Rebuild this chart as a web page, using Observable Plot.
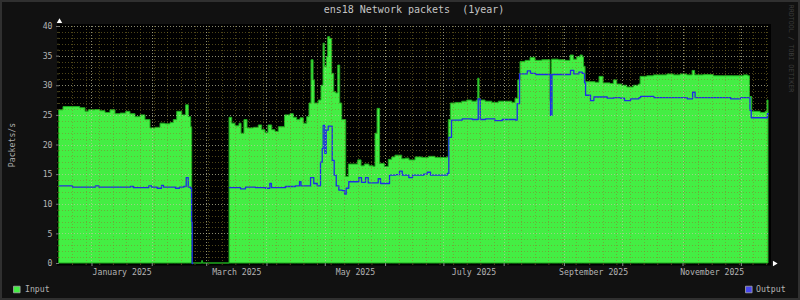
<!DOCTYPE html>
<html>
<head>
<meta charset="utf-8">
<script src="https://cdn.jsdelivr.net/npm/d3@7"></script>
<script src="https://cdn.jsdelivr.net/npm/@observablehq/plot@0.6"></script>
<style>
  html, body { margin: 0; padding: 0; background: #111; }
  #chart { width: 800px; height: 300px; }
</style>
</head>
<body>
<div id="chart"></div>
<script>
// ---- data ----
const titleText = "ens18 Network packets\u00a0 (1year)";
const yLabel = "Packets/s";
const watermark = "RRDTOOL / TOBI OETIKER";
const seriesNames = ["Input", "Output"];

const domainStart = "2024-12-15T07";
const domainEnd = "2025-12-14T23";

const yTicks = [0, 5, 10, 15, 20, 25, 30, 35, 40];
const xLabelMonths = ["2025-01-01", "2025-03-01", "2025-05-01", "2025-07-01", "2025-09-01", "2025-11-01"];
const xLabelTexts = ["January 2025", "March 2025", "May 2025", "July 2025", "September 2025", "November 2025"];

const inDates = [
  "2024-12-15T07","2024-12-17T08","2024-12-26","2024-12-28T16","2024-12-30T08",
  "2025-01-02T19","2025-01-05T09","2025-01-07T23","2025-01-10T12","2025-01-13T02",
  "2025-01-15T16","2025-01-18T14","2025-01-20T19","2025-01-23T09","2025-01-25T23",
  "2025-01-28T12","2025-01-31T02","2025-02-02T16","2025-02-05T06","2025-02-07T19",
  "2025-02-10T09","2025-02-12T02","2025-02-13T20","2025-02-16T10","2025-02-18T11",
  "2025-02-19T19","2025-02-21T01","2025-02-21T13","2025-02-26T16","2025-02-27T02",
  "2025-02-27T03",
  "2025-03-12T18","2025-03-14T03","2025-03-15T20","2025-03-17T21","2025-03-18T22",
  "2025-03-20T10","2025-03-22T00","2025-03-25T06","2025-03-27T19","2025-03-29T13",
  "2025-03-31T06","2025-04-01T19","2025-04-03T17","2025-04-05T09","2025-04-07T02",
  "2025-04-10T07","2025-04-13T02","2025-04-14T19","2025-04-16T13","2025-04-18T06",
  "2025-04-19T23","2025-04-21T17","2025-04-22T21","2025-04-23T22","2025-04-24T23",
  "2025-04-25T14","2025-04-27T16","2025-04-29T01","2025-04-30T02","2025-04-30T18",
  "2025-05-01T19","2025-05-02T12","2025-05-03T13","2025-05-04T13","2025-05-05T14",
  "2025-05-06T15","2025-05-07T16","2025-05-08T16","2025-05-09T17","2025-05-11T18",
  "2025-05-13T02","2025-05-17T22","2025-05-19T15","2025-05-21T08","2025-05-23T18",
  "2025-05-25T23","2025-05-26T20","2025-05-27T21","2025-05-29T04","2025-05-31T15",
  "2025-06-02T16","2025-06-04T10","2025-06-06T02","2025-06-09T14","2025-06-11T06",
  "2025-06-13T07","2025-06-16T10","2025-06-19T21","2025-06-23T06","2025-06-26T17",
  "2025-07-02T17","2025-07-03T13","2025-07-04T14","2025-07-07T00","2025-07-10T10",
  "2025-07-13T00","2025-07-15T14","2025-07-17T23","2025-07-18T16","2025-07-19T08",
  "2025-07-22T10","2025-07-25T21","2025-07-29T06","2025-08-01T17","2025-08-05T04",
  "2025-08-06T20","2025-08-08T06","2025-08-09T10","2025-08-12T00","2025-08-14T13",
  "2025-08-17T03","2025-08-20T14","2025-08-24T20","2025-08-25T14","2025-08-29T02",
  "2025-09-01T14","2025-09-04T03","2025-09-05T20","2025-09-07T14","2025-09-09T07",
  "2025-09-10T11","2025-09-11T02","2025-09-11T21","2025-09-17T00","2025-09-19T01",
  "2025-09-21T03","2025-09-24T17","2025-09-26T10","2025-09-28T04","2025-09-30T18",
  "2025-10-03T07","2025-10-06T17","2025-10-09T07","2025-10-10T04","2025-10-13T14",
  "2025-10-17T00","2025-10-23T22","2025-10-27T07","2025-10-30T18","2025-11-03T04",
  "2025-11-05T22","2025-11-07T05","2025-11-11T17","2025-11-16T21","2025-11-22T00",
  "2025-11-27T04","2025-12-02T07","2025-12-04T14","2025-12-05T10","2025-12-06T14",
  "2025-12-10T22","2025-12-13T12","2025-12-14T10","2025-12-14T23"
];
const inValues = [
  25.85,26.4,26.2,25.6,25.85,
  25.9,25.7,25.4,25.85,25.2,
  25.3,25.6,25.2,24.7,25.0,
  24.2,22.8,22.9,23.6,23.5,
  23.7,24.2,25.6,25.0,26.7,
  24.7,23.0,0,0.4,0.4,
  null,
  24.6,23.6,23.15,23.6,21.9,
  24.2,22.8,22.9,23.3,22.5,
  22.0,23.3,22.5,22.2,23.0,
  25.0,25.2,24.6,24.2,24.5,
  23.6,24.7,27.0,34.3,30.9,
  27.0,27.5,30.0,37.1,33.2,
  34.8,38.2,37.9,32.0,28.9,
  28.7,33.4,27.0,24.2,14.6,
  16.7,17.4,16.4,16.7,16.4,
  16.3,21.9,26.1,16.8,16.3,
  17.5,17.9,18.2,17.6,17.7,
  17.4,17.9,17.8,18.0,17.8,
  17.9,24.2,27.0,27.1,27.3,
  27.5,27.3,27.5,31.2,27.5,
  27.3,27.1,27.3,27.3,27.1,
  27.8,30.9,34.0,34.2,34.7,
  34.2,34.3,27.4,34.4,34.3,
  34.2,35.1,34.4,34.8,35.1,
  34.8,33.2,30.6,30.5,31.5,
  30.4,30.3,30.9,30.2,30.0,
  29.7,30.0,30.2,31.5,31.6,
  31.75,31.9,31.75,31.9,31.75,
  32.5,31.75,31.8,31.6,31.6,
  31.6,31.75,31.6,28.1,25.6,
  25.4,25.6,27.5,27.5
];

const outDates = [
  "2024-12-15T07","2024-12-22T00","2025-01-02T19","2025-01-04T12","2025-01-20T19",
  "2025-01-22T08","2025-01-30T05","2025-01-31T15","2025-02-03T12","2025-02-05T18",
  "2025-02-06T19","2025-02-12T23","2025-02-15T00","2025-02-17T05","2025-02-18T11",
  "2025-02-19T12","2025-02-20T16","2025-02-21T05","2025-02-21T13","2025-02-21T20",
  "2025-02-21T21",
  "2025-03-12T18","2025-03-18T10","2025-03-20T23","2025-03-26T02","2025-03-31T06",
  "2025-04-02T11","2025-04-03T07","2025-04-10T13","2025-04-15T16","2025-04-17T18",
  "2025-04-18T12","2025-04-23T10","2025-04-25T02","2025-04-26T20","2025-04-28T13",
  "2025-04-29T10","2025-04-29T22","2025-04-30T18","2025-05-01T11","2025-05-02T12",
  "2025-05-04T13","2025-05-05T14","2025-05-06T15","2025-05-07T23","2025-05-09T17",
  "2025-05-10T22","2025-05-11T18","2025-05-13T02","2025-05-18T06","2025-05-19T15",
  "2025-05-21T17","2025-05-23T02","2025-05-28T05","2025-05-29T10","2025-06-03T01",
  "2025-06-06T02","2025-06-08T04","2025-06-09T14","2025-06-12T23","2025-06-14T21",
  "2025-06-20T16","2025-06-22T10","2025-06-24T03","2025-07-02T17","2025-07-03T13",
  "2025-07-04T22","2025-07-10T10","2025-07-15T14","2025-07-18T16","2025-07-19T17",
  "2025-07-22T10","2025-07-27T05","2025-07-31T00","2025-08-06T20","2025-08-07T17",
  "2025-08-08T22","2025-08-12T22","2025-08-14T13","2025-08-17T03","2025-08-24T20",
  "2025-08-25T14","2025-09-04T03","2025-09-05T20","2025-09-08T10","2025-09-10T04",
  "2025-09-11T08","2025-09-11T21","2025-09-14T10","2025-09-16T03","2025-09-23T00",
  "2025-09-26T10","2025-09-29T21","2025-10-01T22","2025-10-05T00","2025-10-09T07",
  "2025-10-10T04","2025-10-17T00","2025-11-03T04","2025-11-05T22","2025-11-07T05",
  "2025-11-16T21","2025-11-25T12","2025-11-30T14","2025-12-05T10","2025-12-06T02",
  "2025-12-14T10","2025-12-14T23"
];
const outValues = [
  13.1,12.9,13.1,12.9,13.0,
  12.8,13.1,12.9,12.7,13.2,
  12.9,12.7,12.9,13.0,14.5,
  12.9,12.7,7.0,0,0,
  null,
  12.8,12.6,12.9,12.8,12.7,
  13.5,12.8,13.0,13.1,13.8,
  13.1,14.5,13.5,13.1,17.1,
  19.4,23.3,18.6,22.5,23.2,
  17.4,14.9,13.1,12.4,12.3,
  11.7,12.7,13.8,14.5,13.7,
  14.5,13.6,14.3,13.5,14.9,
  15.0,15.6,14.9,14.5,14.9,
  15.1,15.4,14.9,15.2,21.3,
  24.2,24.4,24.3,27.8,24.3,
  24.4,24.1,24.3,24.2,27.0,
  32.0,32.5,32.1,31.9,25.0,
  31.9,32.6,32.0,32.3,32.1,
  30.5,28.4,27.5,28.1,27.9,
  28.0,27.9,27.5,27.8,28.0,
  28.2,28.0,27.8,28.9,28.0,
  28.0,27.8,28.0,25.85,24.6,
  25.3,25.3
];

// ---- styling ----
const inFill = "#44ee44", inEdge = "#1faa1f";
const outStroke = "#1e2ee6", outLegend = "#4747ee";
const minorGrid = "rgba(140,125,45,0.55)";
const majorGrid = "rgba(195,195,160,0.7)";
const font = "DejaVu Sans Mono";

const parse = s => new Date(s.length === 10 ? s + "T00:00:00Z" : s + ":00:00Z");
const x0 = parse(domainStart), x1 = parse(domainEnd);
const inData = inDates.map((d, i) => ({date: parse(d), value: inValues[i]}));
const outData = outDates.map((d, i) => ({date: parse(d), value: outValues[i]}));

const weeks = d3.utcSunday.range(x0, x1);
const months = d3.utcMonth.range(x0, x1);
const yMinor = d3.range(1, 40).filter(v => v % 5 !== 0);
const yMajor = yTicks.filter(v => v > 0);
const labelMids = xLabelMonths.map(m => {
  const a = parse(m), b = d3.utcMonth.offset(a, 1);
  return new Date((+a + +b) / 2);
});

const crisp = {shapeRendering: "crispEdges", strokeDasharray: "1,2"};

const chart = Plot.plot({
  width: 800,
  height: 300,
  marginLeft: 59,
  marginRight: 32,
  marginTop: 26,
  marginBottom: 37,
  style: {background: "#111", color: "#aaa", fontFamily: font, fontSize: "8.2px"},
  x: {type: "utc", domain: [x0, x1]},
  y: {domain: [0, 40]},
  marks: [
    Plot.frame({fill: "#000", stroke: null, insetLeft: -2.5, insetTop: -2.5, insetRight: -2.5, insetBottom: -2}),
    Plot.areaY(inData, {x: "date", y: "value", curve: "step-after", fill: inFill, stroke: inEdge, strokeWidth: 1}),
    Plot.lineY(outData, {x: "date", y: "value", curve: "step-after", stroke: outStroke, strokeWidth: 1.3}),
    // grid (drawn over the data, like the reference)
    Plot.ruleY(yMinor, {stroke: minorGrid, ...crisp}),
    Plot.ruleX(weeks, {stroke: minorGrid, ...crisp}),
    Plot.ruleY(yMajor, {stroke: majorGrid, ...crisp}),
    Plot.ruleX(months, {stroke: majorGrid, ...crisp}),
    // ticks outside the frame
    Plot.axisY(yMinor, {label: null, tickSize: 2, tickFormat: () => "", stroke: "#4a4520"}),
    Plot.axisY(yTicks, {label: null, tickSize: 3, tickFormat: () => "", stroke: "#777"}),
    Plot.axisX(weeks, {label: null, tickSize: 2, tickFormat: () => "", stroke: "#4a4520"}),
    Plot.axisX(months, {label: null, tickSize: 3, tickFormat: () => "", stroke: "#888"}),
    // tick labels
    Plot.text(yTicks, {y: d => d, text: d => String(d), frameAnchor: "left", dx: -7, textAnchor: "end", lineAnchor: "middle", fill: "#b4b4b4"}),
    Plot.text(labelMids, {x: d => d, text: (d, i) => xLabelTexts[i], frameAnchor: "bottom", dy: 9, textAnchor: "middle", lineAnchor: "middle", fill: "#b4b4b4"}),
    // arrows
    Plot.dot([x0], {x: d => d, y: () => 40, dy: -5, symbol: "triangle2", r: 2.6, fill: "#fff", stroke: null}),
    Plot.dot([x1], {x: d => d, y: () => 0, dx: 6, symbol: "triangle2", rotate: 90, r: 2.6, fill: "#fff", stroke: null}),
    // title, axis label, watermark
    Plot.text([titleText], {frameAnchor: "top", dy: -17, textAnchor: "middle", lineAnchor: "middle", fontSize: 10, fill: "#c4c4c4"}),
    Plot.text([yLabel], {frameAnchor: "left", dx: -47, rotate: -90, textAnchor: "middle", lineAnchor: "middle", fill: "#aaa"}),
    Plot.text([watermark], {frameAnchor: "top-right", dx: 22.5, dy: 22, rotate: 90, textAnchor: "middle", lineAnchor: "middle", fontSize: 6.6, fill: "#3c3c3c"}),
    // legend
    Plot.dot([seriesNames[0]], {frameAnchor: "bottom-left", dx: -42.7, dy: 26, symbol: "square", r: 3.7, fill: inFill, stroke: "#aaa", strokeWidth: 0.8}),
    Plot.text([seriesNames[0]], {frameAnchor: "bottom-left", dx: -34.5, dy: 26, textAnchor: "start", lineAnchor: "middle", fill: "#b4b4b4"}),
    Plot.dot([seriesNames[1]], {frameAnchor: "bottom-right", dx: -19.7, dy: 26, symbol: "square", r: 3.7, fill: outLegend, stroke: "#aaa", strokeWidth: 0.8}),
    Plot.text([seriesNames[1]], {frameAnchor: "bottom-right", dx: -12.5, dy: 26, textAnchor: "start", lineAnchor: "middle", fill: "#b4b4b4"})
  ]
});

d3.select(chart).append("rect")
  .attr("x", 1).attr("y", 1).attr("width", 798).attr("height", 298)
  .attr("fill", "none").attr("stroke", "#303030").attr("stroke-width", 2);

document.getElementById("chart").appendChild(chart);
</script>
</body>
</html>
